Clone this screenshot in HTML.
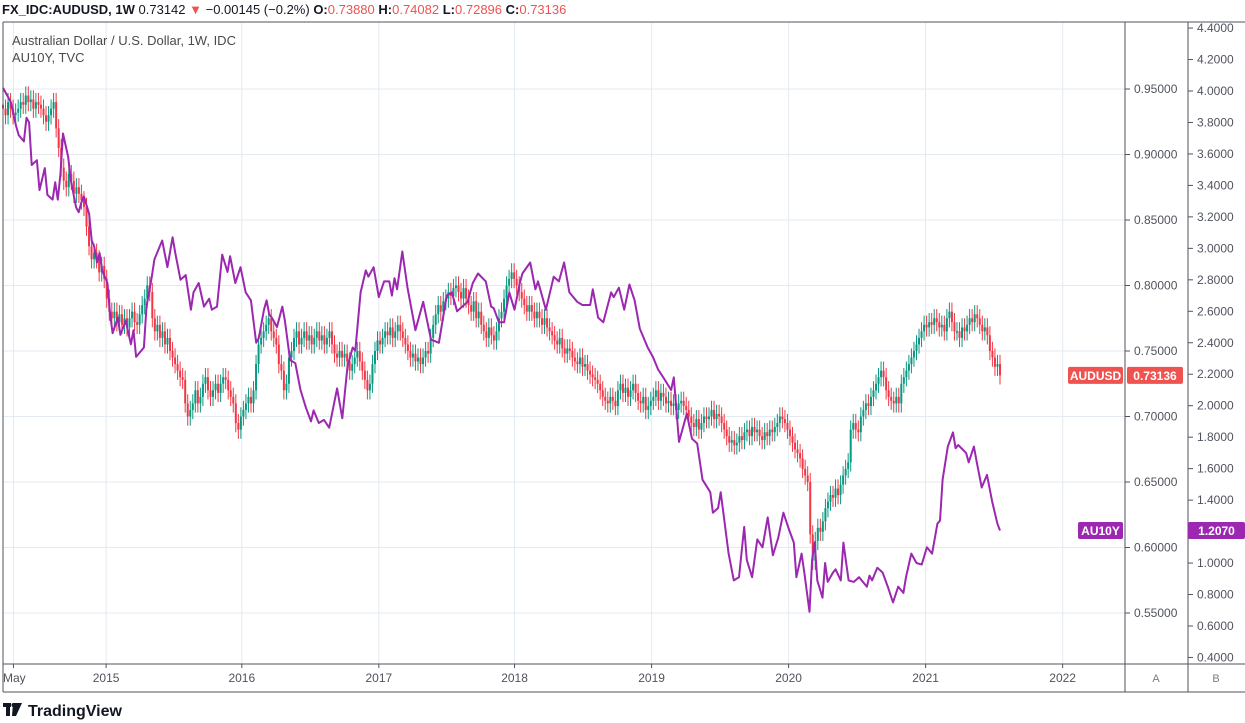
<!DOCTYPE html>
<html><head><meta charset="utf-8"><style>
body{margin:0;width:1245px;height:723px;background:#fff;overflow:hidden;font-family:"Liberation Sans",sans-serif}
svg{display:block}
</style></head><body>
<svg id="chart" width="1245" height="723">
  <g id="grid"></g>
  <g id="candles"></g>
  <g id="yline"></g>
  <g id="axes"></g>
  <g font-size="13" fill="#131722">
    <text x="2" y="14"><tspan font-weight="bold">FX_IDC:AUDUSD, 1W</tspan> 0.73142 <tspan fill="#ef5350">▼</tspan> −0.00145 (−0.2%) <tspan font-weight="bold">O:</tspan><tspan fill="#ef5350">0.73880</tspan> <tspan font-weight="bold">H:</tspan><tspan fill="#ef5350">0.74082</tspan> <tspan font-weight="bold">L:</tspan><tspan fill="#ef5350">0.72896</tspan> <tspan font-weight="bold">C:</tspan><tspan fill="#ef5350">0.73136</tspan></text>
  </g>
  <g font-size="13" fill="#4a4a4a">
    <text x="12" y="45">Australian Dollar / U.S. Dollar, 1W, IDC</text>
    <text x="12" y="62">AU10Y, TVC</text>
  </g>
  <g>
    <rect x="3" y="703" width="8" height="4" fill="#131722"/><rect x="6" y="703" width="4" height="13" fill="#131722"/>
    <polygon points="13,703 22,703 16,716 12,716" fill="#131722"/><circle cx="13.5" cy="705" r="2" fill="#131722"/>
    <text x="28" y="716" font-size="16" font-weight="bold" fill="#131722">TradingView</text>
  </g>
</svg>
<script>
const priceTicks=[0.55,0.60,0.65,0.70,0.75,0.80,0.85,0.90,0.95];
const yieldTicks=[0.4,0.6,0.8,1.0,1.2,1.4,1.6,1.8,2.0,2.2,2.4,2.6,2.8,3.0,3.2,3.4,3.6,3.8,4.0,4.2,4.4];
const yearLabels=["May","2015","2016","2017","2018","2019","2020","2021","2022"];
const yearWeeks=[4,39.5,91.5,144,196,248.5,301,353.5,406];
const closes=[0.935,0.93,0.94,0.935,0.93,0.932,
0.935,0.94,0.938,0.945,0.94,0.942,0.935,0.94,0.938,0.935,0.93,0.925,0.93,0.935,0.94,
0.92,0.905,0.89,0.88,0.875,0.885,0.88,0.87,0.875,0.87,0.865,0.86,
0.845,0.83,0.82,0.825,0.82,0.81,0.815,0.805,0.79,0.78,
0.775,0.78,0.772,0.778,0.77,0.775,0.768,0.775,0.78,0.772,0.77,0.778,0.785,
0.79,0.8,0.795,0.775,0.765,0.77,0.76,0.765,0.755,0.76,0.75,0.745,
0.74,0.735,0.73,0.728,0.71,0.7,0.705,0.71,0.72,0.71,0.715,0.725,
0.73,0.72,0.715,0.72,0.725,0.718,0.725,0.73,0.728,0.72,0.715,0.71,
0.695,0.69,0.7,0.705,0.71,0.715,0.71,0.72,0.74,0.755,0.76,
0.765,0.77,0.775,0.765,0.76,0.755,0.74,0.735,0.72,0.725,0.745,0.75,
0.76,0.765,0.755,0.76,0.765,0.758,0.762,0.755,
0.76,0.765,0.758,0.762,0.755,0.76,0.765,0.755,0.748,0.745,
0.75,0.745,0.748,0.742,0.735,0.74,0.745,0.75,0.742,0.735,0.728,0.72,0.725,
0.74,0.75,0.758,0.755,0.76,0.765,0.762,0.768,0.76,0.765,0.77,0.765,0.76,
0.755,0.75,0.745,0.748,0.742,0.745,0.74,0.745,0.75,0.748,
0.76,0.77,0.778,0.785,0.78,0.788,0.79,0.795,0.792,0.798,0.8,0.795,0.79,0.798,
0.79,0.785,0.78,0.788,0.775,0.78,0.77,0.765,0.76,0.768,0.762,0.758,
0.765,0.775,0.78,0.79,0.8,0.805,0.81,0.805,0.8,0.795,
0.79,0.785,0.78,0.785,0.78,0.775,0.78,0.775,0.77,0.775,0.768,0.765,0.762,0.758,
0.755,0.76,0.752,0.748,0.752,0.75,0.745,0.742,0.74,0.745,0.738,0.74,
0.735,0.732,0.73,0.728,0.725,0.72,0.715,0.712,0.71,0.715,0.712,0.708,
0.72,0.725,0.718,0.722,0.715,0.72,0.725,0.718,0.712,0.71,0.715,0.705,0.708,0.712,
0.715,0.72,0.712,0.718,0.715,0.71,0.712,0.708,0.71,0.705,0.71,0.712,0.708,0.705,
0.70,0.695,0.692,0.698,0.69,0.695,0.70,0.698,0.70,0.705,0.698,0.702,0.70,0.695,0.69,0.685,
0.68,0.682,0.678,0.68,0.685,0.682,0.688,0.69,0.685,0.692,0.688,0.69,
0.685,0.682,0.688,0.685,0.69,0.688,0.692,0.695,0.70,0.698,0.695,0.69,
0.685,0.68,0.675,0.672,0.668,0.66,0.655,0.65,0.61,0.59,
0.605,0.615,0.612,0.62,0.63,0.635,0.64,0.638,0.645,0.64,0.648,0.655,0.66,0.665,
0.69,0.695,0.69,0.688,0.70,0.705,0.71,0.708,0.715,0.72,0.725,0.73,0.735,0.73,
0.72,0.715,0.712,0.71,0.715,0.71,0.725,0.73,0.735,0.74,0.745,0.75,0.755,0.76,
0.765,0.77,0.768,0.772,0.77,0.775,0.772,0.768,0.77,0.765,0.775,0.78,0.772,0.765,
0.765,0.76,0.768,0.765,0.77,0.775,0.772,0.778,0.775,0.77,
0.765,0.768,0.762,0.75,0.745,0.738,0.74,0.7314];
const yieldWeeks=[0,3,5,6,8,9,10,11,13,14,16,17,19,20,21,22,23,25,26,28,29,30,31,33,34,35,36,37,38,40,41,42,44,45,47,49,50,51,54,55,57,58,61,63,65,66,68,70,72,73,75,77,79,80,82,84,86,87,89,91,93,95,97,98,100,101,102,103,105,107,108,110,112,114,116,118,119,121,123,125,128,130,132,134,135,137,139,140,142,144,146,148,149,150,151,153,155,158,161,164,167,170,172,174,178,180,182,185,187,188,190,192,194,196,198,199,202,204,205,208,211,213,215,217,220,222,225,226,228,230,233,234,236,238,240,242,244,247,249,251,253,256,257,259,262,264,266,268,271,272,274,275,278,280,282,284,285,287,289,291,293,295,297,299,301,303,304,306,307,309,310,311,312,314,315,316,318,319,321,322,324,326,328,331,332,333,335,337,339,341,343,345,346,348,350,352,354,356,358,359,360,362,364,365,366,369,370,372,373,375,377,379,381,382];
const yieldValues=[4.02,3.93,3.78,3.72,3.68,3.83,3.80,3.53,3.56,3.37,3.51,3.34,3.31,3.42,3.31,3.47,3.73,3.58,3.43,3.26,3.23,3.29,3.33,3.22,3.05,3.01,2.91,2.97,2.86,2.78,2.59,2.46,2.56,2.45,2.54,2.39,2.48,2.31,2.37,2.63,2.82,2.93,3.05,2.88,3.07,2.97,2.80,2.83,2.61,2.72,2.78,2.63,2.68,2.61,2.63,2.96,2.85,2.95,2.78,2.88,2.72,2.67,2.40,2.43,2.61,2.67,2.58,2.56,2.50,2.63,2.54,2.29,2.27,2.10,1.99,1.90,1.97,1.89,1.91,1.86,2.11,1.92,2.25,2.37,2.35,2.72,2.86,2.82,2.88,2.69,2.79,2.79,2.70,2.81,2.74,2.98,2.75,2.48,2.66,2.42,2.40,2.70,2.72,2.60,2.66,2.78,2.84,2.79,2.63,2.62,2.53,2.53,2.72,2.61,2.78,2.84,2.91,2.74,2.79,2.61,2.82,2.79,2.91,2.72,2.66,2.64,2.64,2.74,2.56,2.53,2.72,2.69,2.75,2.61,2.77,2.67,2.49,2.37,2.31,2.23,2.18,2.10,2.18,1.77,1.95,1.79,1.76,1.53,1.45,1.32,1.35,1.45,1.06,0.89,0.91,1.23,1.02,0.91,1.15,1.10,1.29,1.05,1.16,1.32,1.22,1.13,0.91,1.06,0.94,0.69,1.02,1.13,0.89,0.78,1.00,0.88,0.94,0.96,0.89,1.13,0.89,0.88,0.91,0.85,0.92,0.89,0.97,0.94,0.85,0.75,0.85,0.81,0.91,1.06,1.00,0.99,1.10,1.06,1.25,1.27,1.53,1.74,1.83,1.73,1.75,1.70,1.64,1.74,1.65,1.48,1.56,1.39,1.25,1.207];

const NS='http://www.w3.org/2000/svg';
function mk(tag,attrs,parent){const e=document.createElementNS(NS,tag);for(const k in attrs)e.setAttribute(k,attrs[k]);parent.appendChild(e);return e;}
const X0=3,X1=1000,W0=0,W1=382;
const xw=w=>X0+(w-W0)*(X1-X0)/(W1-W0);
const yp=v=>89+(0.95-v)*1310;
const yy=v=>91+(4.0-v)*157.35;
const grid=document.getElementById('grid'),axes=document.getElementById('axes');
priceTicks.forEach(v=>{const l=mk('line',{x1:3,x2:1125,y1:yp(v),y2:yp(v),stroke:'#e3eaf1','stroke-width':1},grid);

});
yearWeeks.forEach(w=>{const x=xw(w);if(x>1125)return;const l=mk('line',{x1:x,x2:x,y1:22,y2:664,stroke:'#e3eaf1','stroke-width':1},grid);

});
const cg=document.getElementById('candles');
const n=closes.length;
for(let i=0;i<n;i++){
  const c=closes[i],o=i>0?closes[i-1]:c+0.003;
  const up=c>=o,col=up?'#089981':'#f23645';
  const x=xw(i*(W1-W0)/(n-1));
  const hi=Math.max(o,c)+0.007,lo=Math.min(o,c)-0.007;
  const g=mk('g',{},cg);
  
  
  mk('line',{x1:x,x2:x,y1:yp(hi),y2:yp(lo),stroke:col,'stroke-width':1},g);
  const t=yp(Math.max(o,c)),b=yp(Math.min(o,c));
  mk('rect',{x:x-1,y:t,width:2,height:Math.max(1.5,b-t),fill:col},g);
}
let d='';yieldWeeks.forEach((w,i)=>{d+=(i?'L':'M')+xw(w).toFixed(1)+','+yy(yieldValues[i]).toFixed(1);});
const pl=mk('path',{d:d,fill:'none',stroke:'#9c27b0','stroke-width':2,'stroke-linejoin':'round'},document.getElementById('yline'));


[[3,22,1245,22],[3,22,3,692],[1125,22,1125,692],[1188,22,1188,692],[3,664,1245,664],[3,692,1245,692]].forEach(a=>{
  const l=mk('line',{x1:a[0],y1:a[1],x2:a[2],y2:a[3],stroke:'#50535e','stroke-width':1},axes);
  
  });
priceTicks.forEach(v=>{const y=yp(v);
  mk('line',{x1:1125,x2:1130,y1:y,y2:y,stroke:'#50535e'},axes);
  const t=mk('text',{x:1134,y:y+4,'font-size':12,fill:'#50535e'},axes);t.textContent=v.toFixed(5);
  
  });
yieldTicks.forEach(v=>{const y=yy(v);
  mk('line',{x1:1188,x2:1193,y1:y,y2:y,stroke:'#50535e'},axes);
  const t=mk('text',{x:1197,y:y+4,'font-size':12,fill:'#50535e'},axes);t.textContent=v.toFixed(4);
  
  });
yearLabels.forEach((s,i)=>{const x=xw(yearWeeks[i]);if(x>1125)return;
  mk('line',{x1:x,x2:x,y1:664,y2:668,stroke:'#50535e'},axes);
  const t=mk('text',{x:i===0?3:x,y:682,'font-size':12,fill:'#50535e','text-anchor':i===0?'start':'middle'},axes);t.textContent=s;
  
  });
[['A',1156],['B',1216]].forEach(a=>{const t=mk('text',{x:a[1],y:682,'font-size':11,fill:'#787b86','text-anchor':'middle'},axes);t.textContent=a[0];
  
  });
function tag(x,y,w,txt,col,name){const g=mk('g',{},axes);
  
  
  mk('rect',{x:x,y:y-8.5,width:w,height:17,rx:2,fill:col},g);
  const t=mk('text',{x:x+w/2,y:y+4.5,'font-size':12,'font-weight':'bold',fill:'#fff','text-anchor':'middle'},g);t.textContent=txt;}
const lastP=closes[n-1],lastY=yieldValues[yieldValues.length-1];
tag(1068,yp(lastP),55,'AUDUSD','#ef5350','audusd-series-label');
tag(1127,yp(lastP),56,'0.73136','#ef5350','audusd-last-price');
tag(1078,yy(lastY),45,'AU10Y','#9c27b0','au10y-series-label');
tag(1188,yy(lastY),57,lastY.toFixed(4),'#9c27b0','au10y-last-value');
</script>
</body></html>
